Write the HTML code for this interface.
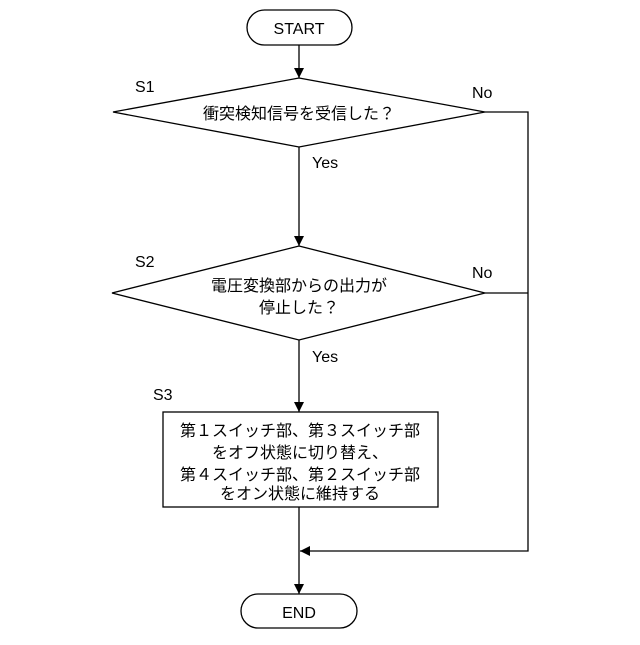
<!DOCTYPE html>
<html><head><meta charset="utf-8"><style>
html,body{margin:0;padding:0;background:#fff;}
svg text{font-family:"Liberation Sans","Noto Sans CJK JP",sans-serif;fill:#000;}
</style></head><body>
<svg width="640" height="640" viewBox="0 0 640 640" xmlns="http://www.w3.org/2000/svg">
<defs><marker id="a" markerWidth="10" markerHeight="10" refX="5" refY="9" orient="auto" markerUnits="userSpaceOnUse"><path d="M0,0 L10,0 L5,10 Z" fill="#000"/></marker></defs>
<g stroke="#000" stroke-width="1.3" fill="none">
<rect x="247" y="10" width="105" height="35" rx="17.5" fill="#fff"/>
<line x1="299" y1="45" x2="299" y2="78"/>
<polygon points="299,78 485,112 299,147 113,112" fill="#fff"/>
<line x1="299" y1="147" x2="299" y2="246"/>
<polygon points="299,246 485,293 299,340 112,293" fill="#fff"/>
<line x1="299" y1="340" x2="299" y2="412"/>
<rect x="163" y="412" width="275" height="95" fill="#fff"/>
<line x1="299" y1="507" x2="299" y2="594"/>
<rect x="241" y="594" width="116" height="34" rx="17" fill="#fff"/>
<polyline points="485,112 528,112 528,551 300,551"/>
<line x1="485" y1="293" x2="528" y2="293"/>
</g>
<g fill="#000">
<path d="M294,68 L304,68 L299,78 Z"/>
<path d="M294,236 L304,236 L299,246 Z"/>
<path d="M294,402 L304,402 L299,412 Z"/>
<path d="M294,584 L304,584 L299,594 Z"/>
<path d="M300,551 L310,546 L310,556 Z"/>
</g>
<g font-size="16">
<text x="299" y="34" text-anchor="middle">START</text>
<text x="299" y="618" text-anchor="middle">END</text>
<text x="135" y="92">S1</text>
<text x="135" y="267">S2</text>
<text x="153" y="400">S3</text>
<text x="472" y="98">No</text>
<text x="472" y="278">No</text>
<text x="312" y="168">Yes</text>
<text x="312" y="362">Yes</text>
<text x="299" y="119" text-anchor="middle">衝突検知信号を受信した？</text>
<text x="299" y="291" text-anchor="middle">電圧変換部からの出力が</text>
<text x="299" y="313" text-anchor="middle">停止した？</text>
<text x="300" y="436" text-anchor="middle">第１スイッチ部、第３スイッチ部</text>
<text x="300" y="458" text-anchor="middle">をオフ状態に切り替え、</text>
<text x="300" y="480" text-anchor="middle">第４スイッチ部、第２スイッチ部</text>
<text x="300" y="499" text-anchor="middle">をオン状態に維持する</text>
</g>
</svg>
</body></html>
